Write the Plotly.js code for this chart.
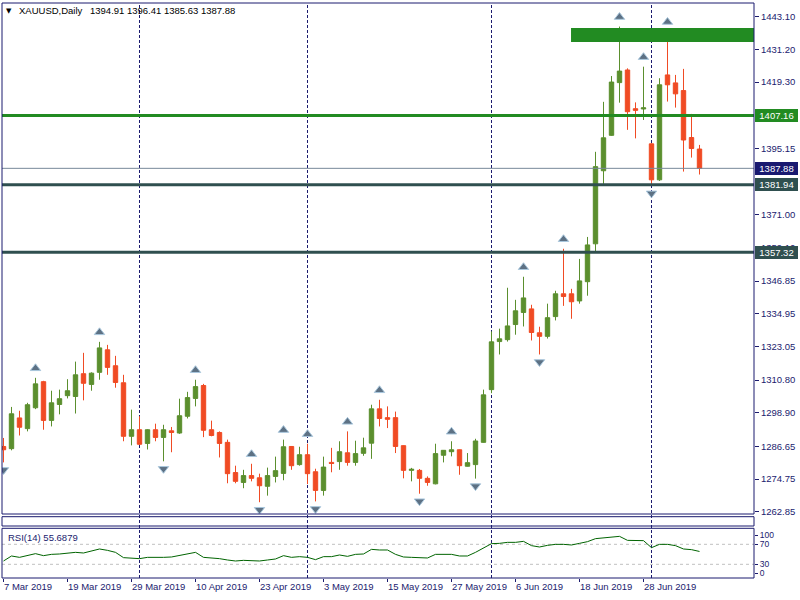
<!DOCTYPE html>
<html><head><meta charset="utf-8">
<script src="https://cdn.plot.ly/plotly-3.0.1.min.js"></script>
<style>html,body{margin:0;padding:0;background:#fff}#chart{width:800px;height:600px}</style>
</head><body><div id="chart"></div>
<script>
const symbol = 'XAUUSD';
const timeframe = 'Daily';
const dates = ['2019-03-07','2019-03-08','2019-03-11','2019-03-12','2019-03-13','2019-03-14','2019-03-15','2019-03-18','2019-03-19','2019-03-20',
'2019-03-21','2019-03-22','2019-03-25','2019-03-26','2019-03-27','2019-03-28','2019-03-29','2019-04-01','2019-04-02','2019-04-03',
'2019-04-04','2019-04-05','2019-04-08','2019-04-09','2019-04-10','2019-04-11','2019-04-12','2019-04-15','2019-04-16','2019-04-17',
'2019-04-18','2019-04-22','2019-04-23','2019-04-24','2019-04-25','2019-04-26','2019-04-29','2019-04-30','2019-05-01','2019-05-02',
'2019-05-03','2019-05-06','2019-05-07','2019-05-08','2019-05-09','2019-05-10','2019-05-13','2019-05-14','2019-05-15','2019-05-16',
'2019-05-17','2019-05-20','2019-05-21','2019-05-22','2019-05-23','2019-05-24','2019-05-27','2019-05-28','2019-05-29','2019-05-30',
'2019-05-31','2019-06-03','2019-06-04','2019-06-05','2019-06-06','2019-06-07','2019-06-10','2019-06-11','2019-06-12','2019-06-13',
'2019-06-14','2019-06-17','2019-06-18','2019-06-19','2019-06-20','2019-06-21','2019-06-24','2019-06-25','2019-06-26','2019-06-27',
'2019-06-28','2019-07-01','2019-07-02','2019-07-03','2019-07-04','2019-07-05','2019-07-08','2019-07-09'];
const opens = [1286.6,1285.8,1297.0,1293.1,1300.7,1310.2,1296.1,1301.9,1305.1,1304.8,
1313.1,1309.2,1313.6,1321.8,1316.0,1309.8,1290.3,1292.7,1287.7,1292.7,
1289.9,1292.3,1291.5,1297.6,1304.1,1308.8,1292.7,1291.7,1288.1,1277.1,
1273.5,1276.0,1275.2,1272.1,1275.7,1276.8,1286.6,1280.0,1283.6,1277.4,
1270.6,1280.8,1281.1,1284.3,1280.8,1284.1,1287.8,1300.3,1297.1,1297.1,
1286.9,1277.9,1277.9,1275.0,1273.0,1283.4,1284.7,1285.4,1279.4,1280.0,
1288.1,1307.3,1324.8,1325.5,1331.0,1335.4,1336.7,1328.0,1326.7,1333.9,
1342.2,1342.2,1339.6,1346.6,1360.4,1387.0,1399.9,1419.1,1423.7,1409.6,
1409.5,1396.8,1383.7,1421.9,1419.0,1416.2,1399.1,1394.91];
const highs = [1289.7,1301.0,1299.6,1302.5,1311.6,1310.5,1306.9,1307.3,1311.1,1317.5,
1320.7,1313.6,1324.7,1323.6,1319.6,1312.7,1300.0,1297.6,1292.9,1294.9,
1294.5,1293.7,1304.0,1306.5,1310.9,1309.4,1296.0,1292.1,1289.1,1279.6,
1278.1,1280.3,1276.7,1278.9,1282.9,1289.1,1286.7,1286.5,1287.6,1278.5,
1282.9,1286.1,1288.5,1292.1,1288.7,1289.8,1301.8,1303.6,1301.2,1299.3,
1287.0,1278.8,1278.4,1275.7,1287.6,1285.3,1288.5,1285.5,1284.2,1289.4,
1307.3,1328.5,1329.5,1344.4,1340.0,1348.4,1338.2,1330.2,1338.6,1343.3,
1358.6,1344.0,1354.9,1362.9,1393.9,1412.1,1421.5,1439.5,1424.3,1411.9,
1424.9,1397.0,1420.7,1437.7,1421.9,1424.1,1407.7,1396.41];
const lows = [1280.8,1285.2,1290.6,1292.1,1300.2,1292.7,1293.9,1298.3,1304.1,1298.6,
1303.4,1306.9,1310.9,1312.7,1308.0,1288.5,1287.0,1287.2,1285.5,1288.5,
1281.2,1284.5,1291.2,1296.8,1301.2,1290.0,1290.3,1282.6,1273.2,1273.2,
1271.4,1273.9,1266.3,1268.7,1273.5,1274.3,1278.1,1279.6,1272.9,1266.6,
1268.7,1277.2,1278.1,1279.6,1279.6,1283.2,1282.1,1293.9,1293.3,1284.2,
1275.0,1273.9,1269.4,1272.3,1272.8,1280.8,1283.0,1276.3,1279.3,1274.9,
1288.0,1306.0,1320.1,1324.8,1327.3,1330.3,1325.2,1320.1,1325.9,1332.5,
1337.8,1333.1,1338.6,1341.5,1357.5,1382.2,1399.7,1411.8,1401.9,1398.8,
1405.5,1381.5,1383.3,1412.2,1410.0,1386.7,1391.8,1385.63];
const closes = [1285.4,1298.5,1293.6,1301.8,1309.4,1296.1,1302.5,1304.0,1306.9,1312.7,
1309.6,1313.3,1322.5,1315.4,1309.9,1290.3,1292.7,1287.4,1292.7,1289.9,
1292.7,1291.7,1297.8,1304.4,1308.4,1292.5,1290.6,1287.7,1276.7,1273.9,
1276.0,1275.0,1272.3,1276.0,1277.8,1286.5,1279.6,1283.6,1276.7,1270.6,
1279.1,1280.4,1284.7,1280.8,1284.0,1286.1,1300.3,1296.8,1296.5,1286.6,
1277.9,1278.3,1275.0,1273.5,1284.0,1285.2,1285.4,1279.6,1280.7,1288.6,
1305.4,1324.7,1325.8,1330.5,1336.0,1340.7,1328.1,1326.7,1333.5,1342.2,
1341.2,1339.3,1346.9,1360.0,1388.5,1399.0,1419.3,1423.3,1408.5,1409.0,
1409.9,1383.7,1418.3,1418.3,1415.0,1398.2,1395.1,1387.88];
const rsi = [36.6,46.6,43.9,47.3,51.3,47.3,49.9,50.6,51.9,53.9,
52.6,56.6,60.6,57.9,53.9,43.3,42.6,41.3,43.9,43.3,
43.9,44.6,47.9,51.9,53.9,43.9,43.3,41.3,38.6,36.6,
37.9,36.6,36.6,38.6,40.6,47.3,43.9,45.3,43.9,39.3,
45.3,45.3,48.6,45.9,49.9,50.6,59.9,58.6,58.6,49.9,
44.6,43.9,42.6,42.6,49.9,49.9,49.9,46.6,46.6,53.9,
63.3,71.3,71.9,73.9,73.9,75.9,67.3,64.6,67.9,69.9,
69.9,68.6,71.9,75.3,81.3,83.3,85.3,85.9,77.9,77.3,
77.3,63.3,69.9,69.9,67.3,60.6,59.3,55.6879];
const upFractals = [4,12,24,31,35,38,43,47,56,65,70,77,80,83];
const downFractals = [0,20,32,39,52,59,67,81];
const priceTicks = [1443.10,1431.20,1419.30,1395.15,1371.00,1359.10,1346.85,1334.95,1323.05,1310.80,1298.90,1286.65,1274.75,1262.85];
const resistanceLevel = 1407.16;
const supportLevels = [1381.94, 1357.32];
const zoneTop = 1439.0, zoneBottom = 1433.9, zoneStartBar = 70.94;
const rsiLevels = [70, 30];
// MT4 draws the 100 / 0 scale labels pulled inside the indicator window
const rsiTickPos = [88.5, 70, 30, 12];
const rsiTickText = ['100', '70', '30', '0'];
const monthNames = ['Jan','Feb','Mar','Apr','May','Jun','Jul','Aug','Sep','Oct','Nov','Dec'];

// ---- layout geometry ----
const W = 800, H = 600, mL = 2, mR = 46, mT = 3, mB = 22;
const plotW = W - mL - mR, plotH = H - mT - mB;
const px = p => (p - mL) / plotW;
const py = p => (H - mB - p) / plotH;
const navy = '#1b1b6e';
const green = '#5b8f2e', red = '#f04b24';
const font = 'Liberation Sans, Arial, sans-serif';
const barPx = 8, firstBarPx = 3.5;
const xRange = [(mL - firstBarPx) / barPx, (W - mR - firstBarPx) / barPx];
const yRange = [1262.01, 1448.09];
const mainTopPx = 3, mainBotPx = 514;
const unitPx = (mainBotPx - mainTopPx) / (yRange[1] - yRange[0]);

const idx = dates.map((d, i) => i);
const last = closes.length - 1;
const tickIdx = idx.filter(i => i % 8 === 0);
const fmtDate = s => { const [y, m, d] = s.split('-'); return (+d) + ' ' + monthNames[+m - 1] + ' ' + y; };
const monthStarts = idx.filter(i => i > 0 && dates[i].slice(5, 7) !== dates[i - 1].slice(5, 7));

const fractalMarker = sym => ({symbol: sym, size: 9, color: '#5d7184', line: {color: '#a9c7dd', width: 1}});
const data = [
  {type: 'candlestick', x: idx, open: opens, high: highs, low: lows, close: closes,
   xaxis: 'x', yaxis: 'y',
   increasing: {line: {color: green, width: 1}, fillcolor: green},
   decreasing: {line: {color: red, width: 1}, fillcolor: red},
   hoverinfo: 'skip', showlegend: false},
  {type: 'scatter', mode: 'markers', x: upFractals, y: upFractals.map(i => highs[i] + 9.5 / unitPx),
   xaxis: 'x', yaxis: 'y', marker: fractalMarker('triangle-up'), hoverinfo: 'skip', showlegend: false},
  {type: 'scatter', mode: 'markers', x: downFractals, y: downFractals.map(i => lows[i] - 7.5 / unitPx),
   xaxis: 'x', yaxis: 'y', marker: fractalMarker('triangle-down'), hoverinfo: 'skip', showlegend: false},
  {type: 'scatter', mode: 'lines', x: idx, y: rsi, xaxis: 'x', yaxis: 'y2',
   line: {color: '#006400', width: 1}, hoverinfo: 'skip', showlegend: false}
];

const shapes = [];
monthStarts.forEach(i => shapes.push({type: 'line', xref: 'x', yref: 'paper', x0: i, x1: i, y0: 0, y1: 1,
  line: {color: navy, width: 1, dash: '3px,2px'}, layer: 'below'}));
rsiLevels.forEach(v => shapes.push({type: 'line', xref: 'paper', yref: 'y2', x0: 0, x1: 1, y0: v, y1: v,
  line: {color: '#c0c0c0', width: 1, dash: '3px,3px'}, layer: 'below'}));
shapes.push({type: 'rect', xref: 'x', yref: 'y', x0: zoneStartBar, x1: xRange[1], y0: zoneBottom, y1: zoneTop,
  fillcolor: '#228b22', line: {width: 0}, layer: 'above'});
shapes.push({type: 'line', xref: 'paper', yref: 'y', x0: 0, x1: 1, y0: closes[last], y1: closes[last],
  line: {color: '#778899', width: 1}, layer: 'above'});
shapes.push({type: 'line', xref: 'paper', yref: 'y', x0: 0, x1: 1, y0: resistanceLevel, y1: resistanceLevel,
  line: {color: '#228b22', width: 3}, layer: 'above'});
supportLevels.forEach(v => shapes.push({type: 'line', xref: 'paper', yref: 'y', x0: 0, x1: 1, y0: v, y1: v,
  line: {color: '#2f4f4f', width: 3}, layer: 'above'}));
// panel frames
[[mainTopPx, mainBotPx], [516.7, 526], [528.3, 578]].forEach(([t, b]) => shapes.push({type: 'rect', xref: 'paper', yref: 'paper',
  x0: 0, x1: 1, y0: py(b), y1: py(t), line: {color: navy, width: 1}, fillcolor: 'rgba(0,0,0,0)', layer: 'above'}));

const boxAnn = (v, bg) => ({xref: 'paper', yref: 'y', x: 1, y: v, xanchor: 'left', yanchor: 'middle', xshift: 1,
  text: v.toFixed(2), showarrow: false, bgcolor: bg, borderpad: 0, borderwidth: 0, width: 43, height: 13, align: 'center',
  font: {family: font, size: 9.5, color: '#ffffff'}});

const annotations = [
  {xref: 'paper', yref: 'paper', x: px(4), y: py(11), xanchor: 'left', yanchor: 'middle', text: '▼', showarrow: false,
   font: {family: 'DejaVu Sans', size: 7, color: '#000'}},
  {xref: 'paper', yref: 'paper', x: px(16.5), y: py(11), xanchor: 'left', yanchor: 'middle', text: symbol + ',' + timeframe, showarrow: false,
   font: {family: font, size: 9.5, color: '#000'}},
  {xref: 'paper', yref: 'paper', x: px(87.5), y: py(11), xanchor: 'left', yanchor: 'middle',
   text: [opens[last], highs[last], lows[last], closes[last]].map(v => v.toFixed(2)).join(' '), showarrow: false,
   font: {family: font, size: 9.5, color: '#000'}},
  {xref: 'paper', yref: 'paper', x: px(5.5), y: py(537.5), xanchor: 'left', yanchor: 'middle',
   text: 'RSI(14) ' + rsi[last].toFixed(4), showarrow: false, font: {family: font, size: 9.5, color: navy}},
  boxAnn(resistanceLevel, '#228b22'),
  boxAnn(closes[last], '#191970'),
  ...supportLevels.map(v => boxAnn(v, '#2f4f4f'))
];

const layout = {
  width: W, height: H, margin: {l: mL, r: mR, t: mT, b: mB, pad: 0},
  paper_bgcolor: '#ffffff', plot_bgcolor: '#ffffff', showlegend: false,
  boxgap: 0.45, boxgroupgap: 0,
  xaxis: {range: xRange, anchor: 'y2', domain: [0, 1], showgrid: false, zeroline: false, showline: false,
    rangeslider: {visible: false}, tickmode: 'array', tickvals: tickIdx, ticktext: tickIdx.map(i => fmtDate(dates[i])),
    ticks: 'outside', ticklen: 3, tickcolor: navy, ticklabelposition: 'outside right',
    tickfont: {family: font, size: 9.5, color: navy}},
  yaxis: {domain: [py(mainBotPx), py(mainTopPx)], range: yRange, side: 'right', anchor: 'x', showgrid: false, zeroline: false,
    showline: false, tickmode: 'array', tickvals: priceTicks, ticktext: priceTicks.map(v => v.toFixed(2)),
    ticks: 'outside', ticklen: 4, tickcolor: navy, tickfont: {family: font, size: 9.5, color: navy}},
  yaxis2: {domain: [0, py(528.3)], range: [2.6, 102], side: 'right', anchor: 'x', showgrid: false, zeroline: false,
    showline: false, tickmode: 'array', tickvals: rsiTickPos, ticktext: rsiTickText,
    ticks: 'outside', ticklen: 3, tickcolor: navy, tickfont: {family: font, size: 8.5, color: navy}},
  shapes: shapes, annotations: annotations
};

Plotly.newPlot('chart', data, layout, {staticPlot: true, displayModeBar: false});
</script></body></html>
